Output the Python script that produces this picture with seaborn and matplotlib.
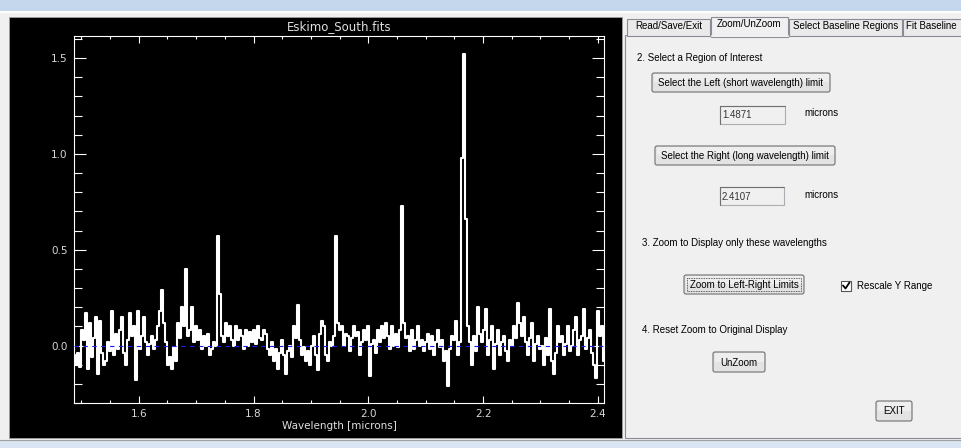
import numpy as np
import matplotlib
matplotlib.use("Agg")
import matplotlib.pyplot as plt
import seaborn as sns
from matplotlib.patches import Rectangle, FancyBboxPatch
from matplotlib.ticker import MultipleLocator

# spectrum: flux, one value every ~2 px
WAVE_START = 1.4871
WAVE_END = 2.4107
flux = [
    -0.05, -0.10, -0.04, -0.11, 0.08, 0.03, 0.17, -0.12, 0.12, -0.06,
    0.04, 0.15, -0.15, 0.13, -0.04, -0.10, -0.08, 0.02, -0.03, 0.18,
    -0.05, 0.06, -0.02, 0.08, 0.15, -0.04, -0.10, 0.03, 0.17, 0.05,
    0.10, -0.18, 0.18, -0.02, 0.05, 0.15, 0.02, -0.05, 0.01, 0.05,
    -0.02, 0.03, 0.10, 0.18, 0.29, 0.12, 0.02, -0.10, -0.06, -0.12,
    -0.01, -0.08, 0.12, 0.04, 0.20, 0.10, 0.40, 0.05, 0.08, 0.20,
    0.02, 0.10, 0.03, 0.08, -0.02, 0.05, 0.00, 0.06, -0.05, -0.02,
    0.02, 0.00, 0.57, 0.27, 0.05, 0.02, 0.12, 0.05, 0.10, 0.03,
    0.00, 0.10, 0.03, 0.08, 0.05, -0.02, 0.08, 0.00, 0.07, 0.02,
    0.08, 0.01, 0.10, 0.04, 0.03, 0.08, 0.06, -0.02, -0.05, 0.02,
    -0.08, -0.02, -0.12, -0.04, 0.03, -0.05, -0.15, -0.03, 0.00, -0.06,
    0.10, 0.04, 0.21, 0.03, -0.05, -0.01, -0.08, -0.03, -0.10, 0.00,
    0.05, -0.05, -0.13, 0.06, 0.13, 0.10, -0.05, -0.08, 0.02, 0.00,
    0.05, 0.57, 0.12, 0.08, 0.10, 0.00, 0.06, 0.05, -0.03, 0.04,
    0.10, 0.05, 0.07, -0.05, 0.02, 0.08, 0.03, 0.10, -0.16, 0.01,
    0.03, -0.04, 0.08, 0.02, 0.10, 0.04, 0.12, 0.05, -0.02, 0.10,
    0.00, 0.06, -0.01, 0.08, 0.73, 0.12, 0.04, 0.05, -0.03, 0.08,
    -0.02, 0.03, 0.10, 0.00, 0.03, -0.03, 0.02, 0.06, -0.02, 0.05,
    -0.05, 0.02, 0.08, -0.01, 0.03, -0.08, -0.03, -0.21, -0.02, 0.05,
    0.03, 0.13, -0.05, 0.02, 0.98, 1.52, 0.66, 0.10, 0.02, -0.10,
    0.05, -0.03, 0.20, 0.06, 0.02, 0.08, 0.19, -0.05, 0.03, 0.10,
    -0.12, 0.01, 0.08, -0.05, 0.02, 0.05, -0.03, -0.08, 0.03, 0.00,
    0.10, 0.04, 0.22, 0.12, 0.05, 0.15, 0.02, -0.05, 0.04, 0.12,
    -0.08, 0.01, 0.05, -0.02, 0.00, -0.10, 0.04, -0.05, 0.19, -0.08,
    -0.15, -0.04, 0.10, 0.02, 0.05, -0.05, 0.01, 0.10, -0.03, 0.00,
    0.08, 0.15, -0.05, 0.03, 0.05, 0.19, -0.02, 0.04, 0.08, -0.04,
    -0.10, -0.17, 0.18, 0.05, 0.10, -0.08,
]
wave = np.linspace(WAVE_START, WAVE_END, len(flux))

x_ticks = [1.6, 1.8, 2.0, 2.2, 2.4]
y_ticks = [0.0, 0.5, 1.0, 1.5]
y_range = (-0.30, 1.615)
plot_title = "Eskimo_South.fits"
x_label = "Wavelength [microns]"

tab_labels = ["Read/Save/Exit", "Zoom/UnZoom", "Select Baseline Regions", "Fit Baseline"]
left_limit = "1.4871"
right_limit = "2.4107"

W, H = 961, 448
GUI_FONT = ["Liberation Sans", "DejaVu Sans"]
GUI_SIZE = 7.0

sns.set_theme(style="ticks")
plt.rcParams["font.family"] = ["DejaVu Sans"]

fig = plt.figure(figsize=(W / 100, H / 100), dpi=100)
fig.patch.set_facecolor("#f0f0f0")

# background "window" drawn in pixel coordinates
gui = fig.add_axes([0, 0, 1, 1], zorder=0)
gui.set_xlim(0, W)
gui.set_ylim(H, 0)
gui.axis("off")


def gtext(x, y, s, **kw):
    kw.setdefault("fontsize", GUI_SIZE)
    kw.setdefault("color", "#000000")
    kw.setdefault("va", "center")
    gui.text(x, y, s, family=GUI_FONT, **kw)


def button(x0, y0, x1, y1, label, focus=False):
    gui.add_patch(FancyBboxPatch((x0, y0), x1 - x0, y1 - y0,
                                 boxstyle="round,pad=0,rounding_size=2",
                                 facecolor="#e3e3e3", edgecolor="#707070", lw=0.8))
    gui.add_patch(Rectangle((x0 + 1.5, y0 + 1.5), x1 - x0 - 3, (y1 - y0) / 2 - 1.5,
                            facecolor="#eeeeee", edgecolor="none"))
    if focus:
        gui.add_patch(Rectangle((x0 + 3, y0 + 3), x1 - x0 - 6, y1 - y0 - 6,
                                facecolor="none", edgecolor="#333333", lw=0.6,
                                ls=(0, (1, 1))))
    gtext((x0 + x1) / 2, (y0 + y1) / 2 + 0.5, label, ha="center")


def textbox(x0, y0, x1, y1, value):
    gui.add_patch(Rectangle((x0, y0), x1 - x0, y1 - y0,
                            facecolor="#f0f0f0", edgecolor="#abadb3", lw=0.8))
    gui.plot([x0, x0, x1], [y1, y0, y0], color="#707070", lw=0.8)
    gtext(x0 + 2, (y0 + y1) / 2 + 0.5, value, color="#333333")


# title bar / frame strips
gui.add_patch(Rectangle((0, 0), W, 11, facecolor="#c4d7ec", edgecolor="none"))
gui.add_patch(Rectangle((0, 11), W, 2, facecolor="#ffffff", edgecolor="none"))
gui.add_patch(Rectangle((0, 440), W, 8, facecolor="#d9e5f2", edgecolor="none"))
gui.plot([0, W], [440, 440], color="#a0a0a0", lw=0.8)

# black draw widget
gui.add_patch(Rectangle((9, 17), 613, 421, facecolor="#000000", edgecolor="#a0a0a0", lw=0.6))

# tab panel
gui.add_patch(Rectangle((625, 35), 340, 403, facecolor="#f0f0f0", edgecolor="#898c95", lw=0.8))
tab_x = [(627, 710), (711, 788), (789, 902), (903, 965)]
for (x0, x1), lab in zip(tab_x, tab_labels):
    sel = lab == "Zoom/UnZoom"
    y0 = 17 if sel else 19
    gui.add_patch(Rectangle((x0, y0), x1 - x0, 36 - y0 + (1 if sel else 0),
                            facecolor="#f0f0f0" if sel else "#eaeaea",
                            edgecolor="#898c95", lw=0.8, zorder=3 if sel else 2))
    if sel:
        gui.plot([x0 + 0.5, x1 - 0.5], [36, 36], color="#f0f0f0", lw=1.5, zorder=4)
    gtext((x0 + x1) / 2 if lab != "Fit Baseline" else x0 + 3, 24 if sel else 26, lab,
          ha="center" if lab != "Fit Baseline" else "left", zorder=5)

gtext(637, 58, "2. Select a Region of Interest")
button(652, 73, 830, 92, "Select the Left (short wavelength) limit")
textbox(720, 106, 785, 124, left_limit)
gtext(804, 113, "microns")
button(655, 146, 835, 165, "Select the Right (long wavelength) limit")
textbox(720, 187, 784, 205, right_limit)
gtext(804, 195, "microns")

gtext(642, 243, "3. Zoom to Display only these wavelengths")
button(684, 275, 804, 294, "Zoom to Left-Right Limits", focus=True)
gui.add_patch(Rectangle((841, 281), 10, 10, facecolor="#ffffff", edgecolor="#555555", lw=0.8))
gui.plot([843, 845.5, 849.5], [285.5, 288.5, 282.5], color="#000000", lw=1.3)
gtext(857, 286, "Rescale Y Range")

gtext(642, 330, "4. Reset Zoom to Original Display")
button(713, 352, 765, 372, "UnZoom")
button(876, 401, 912, 421, "EXIT")

# spectrum axes
ax = fig.add_axes([74 / W, 1 - 403 / H, 530 / W, 367 / H], zorder=2)
ax.set_facecolor("#000000")
sns.lineplot(x=wave, y=flux, ax=ax, color="white", lw=1.5,
             drawstyle="steps-mid", estimator=None)
ax.axhline(0, color="#1a1aff", lw=0.8, ls=(0, (4, 4)), zorder=3)

ax.set_xlim(WAVE_START, WAVE_END)
ax.set_ylim(*y_range)
ax.set_xticks(x_ticks)
ax.set_yticks(y_ticks)
ax.set_xticklabels([f"{v:.1f}" for v in x_ticks])
ax.set_yticklabels([f"{v:.1f}" for v in y_ticks])
ax.xaxis.set_minor_locator(MultipleLocator(0.05))
ax.yaxis.set_minor_locator(MultipleLocator(0.1))
for s in ax.spines.values():
    s.set_color("white")
    s.set_linewidth(0.8)
ax.tick_params(axis="both", which="both", direction="in", colors="white",
               labelcolor="#d8d8d8", labelsize=7.5, width=0.8,
               top=True, right=True)
ax.tick_params(axis="y", which="major", length=8.5, pad=4.5)
ax.tick_params(axis="y", which="minor", length=5.5)
ax.tick_params(axis="x", which="major", length=5, pad=4.5)
ax.tick_params(axis="x", which="minor", length=2.5)
ax.set_title(plot_title, color="#e0e0e0", fontsize=8.5, pad=4)
ax.set_xlabel(x_label, color="#e0e0e0", fontsize=7.5)
ax.xaxis.set_label_coords(0.5, -0.063)
ax.xaxis.label.set_va("center")
ax.set_ylabel("")
ax.grid(False)

fig.savefig("out.png", dpi=100, facecolor=fig.get_facecolor())
